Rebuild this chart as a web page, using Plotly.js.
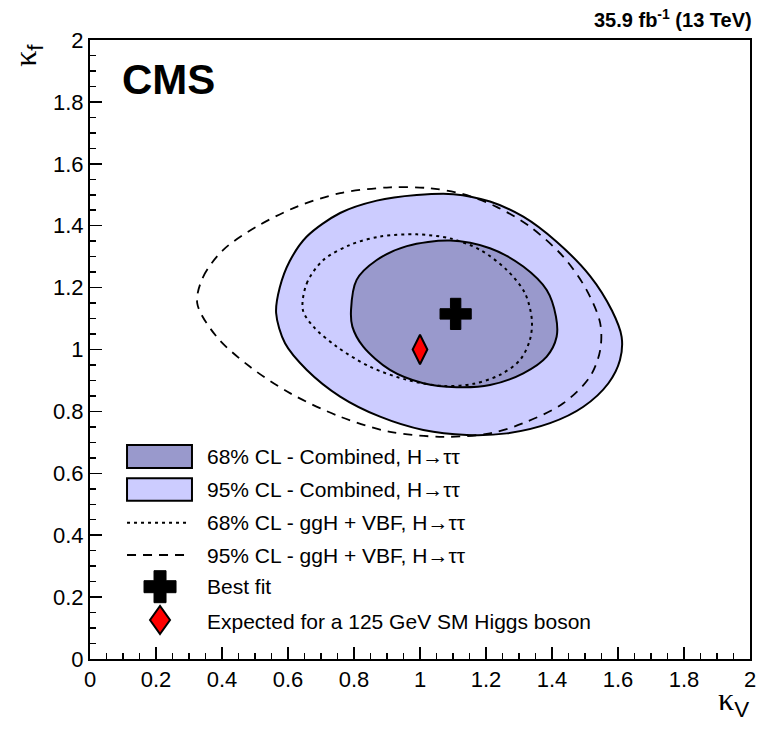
<!DOCTYPE html>
<html>
<head>
<meta charset="utf-8">
<script src="https://cdn.plot.ly/plotly-3.0.1.min.js"></script>
<style>html,body{margin:0;padding:0;background:#fff;}#plot{width:758px;height:733px;}</style>
</head>
<body>
<div id="plot"></div>
<script>
// 95% CL combined contour (kappa_V, kappa_f)
var kvComb95 = [0.564,0.575,0.605,0.657,0.758,0.869,0.990,1.101,1.212,1.313,1.414,1.515,1.582,1.611,1.606,1.571,1.495,1.394,1.263,1.142,1.010,0.879,0.758,0.657,0.591];
var kfComb95 = [1.118,1.200,1.285,1.365,1.441,1.481,1.499,1.502,1.478,1.429,1.348,1.238,1.125,1.041,0.966,0.891,0.815,0.762,0.729,0.724,0.740,0.783,0.848,0.934,1.020];
// 68% CL combined contour
var kvComb68 = [0.791,0.808,0.869,0.960,1.091,1.212,1.313,1.384,1.412,1.414,1.384,1.313,1.212,1.111,1.010,0.909,0.828,0.795];
var kfComb68 = [1.128,1.225,1.289,1.334,1.352,1.327,1.268,1.192,1.106,1.041,0.977,0.923,0.885,0.878,0.891,0.934,1.009,1.074];
// 68% CL ggH + VBF contour
var kvGgh68 = [0.645,0.657,0.707,0.788,0.879,0.990,1.091,1.182,1.263,1.318,1.339,1.333,1.303,1.242,1.162,1.071,0.960,0.849,0.748,0.677];
var kfGgh68 = [1.128,1.214,1.289,1.338,1.365,1.372,1.359,1.322,1.257,1.182,1.095,1.031,0.966,0.918,0.889,0.882,0.902,0.944,1.009,1.074];
// 95% CL ggH + VBF contour
var kvGgh95 = [0.325,0.343,0.404,0.505,0.626,0.758,0.909,1.030,1.131,1.232,1.333,1.434,1.505,1.546,1.546,1.515,1.434,1.313,1.212,1.071,0.909,0.758,0.606,0.485,0.384];
var kfGgh95 = [1.149,1.235,1.322,1.397,1.461,1.505,1.524,1.521,1.502,1.461,1.397,1.300,1.192,1.085,0.998,0.912,0.826,0.762,0.729,0.718,0.734,0.783,0.859,0.944,1.041];
// Best fit and SM expectation
var bestFitKv = [1.108], bestFitKf = [1.115];
var smKv = [1.0], smKf = [1.0];

var legendLabels = [
  "68% CL - Combined, H\u2192\u03c4\u03c4",
  "95% CL - Combined, H\u2192\u03c4\u03c4",
  "68% CL - ggH + VBF, H\u2192\u03c4\u03c4",
  "95% CL - ggH + VBF, H\u2192\u03c4\u03c4",
  "Best fit",
  "Expected for a 125 GeV SM Higgs boson"
];

function closed(a){ return a.concat([a[0]]); }

var traces = [
  {x: closed(kvComb95), y: closed(kfComb95), mode:'lines', fill:'toself', fillcolor:'rgb(204,204,255)',
   line:{color:'black', width:2, shape:'spline', smoothing:0.9}, hoverinfo:'skip'},
  {x: closed(kvComb68), y: closed(kfComb68), mode:'lines', fill:'toself', fillcolor:'rgb(153,153,204)',
   line:{color:'black', width:2, shape:'spline', smoothing:0.9}, hoverinfo:'skip'},
  {x: closed(kvGgh68), y: closed(kfGgh68), mode:'lines',
   line:{color:'black', width:2, dash:'3px,4px', shape:'spline', smoothing:0.9}, hoverinfo:'skip'},
  {x: closed(kvGgh95), y: closed(kfGgh95), mode:'lines',
   line:{color:'black', width:1.8, dash:'9px,7px', shape:'spline', smoothing:0.9}, hoverinfo:'skip'},
  {x: bestFitKv, y: bestFitKf, mode:'markers',
   marker:{symbol:'cross', size:26, color:'black', line:{color:'black', width:1}}},
  {x: smKv, y: smKf, mode:'markers',
   marker:{symbol:'diamond-tall', size:21, color:'red', line:{color:'black', width:2}}}
];

// legend layout (paper coordinates)
var legX0 = 0.0561, legX1 = 0.1545, legXc = 0.1061, legText = 0.1742;
var legRowY = [0.3268, 0.2742, 0.2202, 0.1680, 0.1168, 0.0603];

var shapes = [
  {type:'rect', xref:'paper', yref:'paper', x0:legX0, x1:legX1, y0:0.3086, y1:0.3457,
   fillcolor:'rgb(153,153,204)', line:{color:'black', width:2}},
  {type:'rect', xref:'paper', yref:'paper', x0:legX0, x1:legX1, y0:0.2557, y1:0.2919,
   fillcolor:'rgb(204,204,255)', line:{color:'black', width:2}},
  {type:'line', xref:'paper', yref:'paper', x0:legX0, x1:0.1515, y0:legRowY[2], y1:legRowY[2],
   line:{color:'black', width:2, dash:'3px,4px'}},
  {type:'line', xref:'paper', yref:'paper', x0:legX0, x1:0.1515, y0:legRowY[3], y1:legRowY[3],
   line:{color:'black', width:1.8, dash:'9px,7px'}},
  {type:'path', xref:'paper', yref:'paper', xsizemode:'pixel', ysizemode:'pixel',
   xanchor:legXc, yanchor:legRowY[4],
   path:'M-16,-6H-6V-16H6V-6H16V6H6V16H-6V6H-16Z', fillcolor:'black', line:{color:'black', width:1}},
  {type:'path', xref:'paper', yref:'paper', xsizemode:'pixel', ysizemode:'pixel',
   xanchor:legXc, yanchor:0.0630,
   path:'M0,-14L10,0L0,14L-10,0Z', fillcolor:'red', line:{color:'black', width:2}}
];

var annotations = legendLabels.map(function(t, i){
  return {text:t, xref:'paper', yref:'paper', x:legText, y:legRowY[i], xanchor:'left', yanchor:'middle',
          showarrow:false, font:{size:21, color:'black'}};
});
var sansSub = 'font-family:Liberation Sans, Arial, sans-serif';
annotations.push(
  {text:'<b>CMS</b>', xref:'paper', yref:'paper', x:0.0455, y:0.9354, xanchor:'left', yanchor:'middle',
   showarrow:false, font:{size:42, color:'black'}},
  {text:'<b>35.9 fb<sup>-1</sup> (13 TeV)</b>', xref:'paper', yref:'paper', x:1.006, y:1.034, xanchor:'right', yanchor:'middle',
   showarrow:false, font:{size:20, color:'black'}},
  {text:'\u03ba<sub><span style="' + sansSub + '">f</span></sub>', xref:'paper', yref:'paper', x:-0.095, y:0.975, xanchor:'center', yanchor:'middle',
   textangle:-90, showarrow:false, font:{size:32, color:'black', family:'Liberation Serif, Times New Roman, serif'}},
  {text:'\u03ba<sub><span style="' + sansSub + '">V</span></sub>', xref:'paper', yref:'paper', x:0.975, y:-0.068, xanchor:'center', yanchor:'middle',
   showarrow:false, font:{size:32, color:'black', family:'Liberation Serif, Times New Roman, serif'}}
);

var axisCommon = {
  range:[0,2], tick0:0, dtick:0.2, ticks:'inside', ticklen:12, tickwidth:1.5, tickcolor:'black',
  showline:true, linewidth:2, linecolor:'black', mirror:true, showgrid:false, zeroline:false,
  tickfont:{size:22, color:'black'}, fixedrange:true,
  minor:{ticks:'inside', ticklen:6, dtick:0.05, tickwidth:1.5, tickcolor:'black', showgrid:false}
};

var layout = {
  width:758, height:733,
  margin:{l:90, r:8, t:40, b:74},
  paper_bgcolor:'white', plot_bgcolor:'white',
  font:{family:'Liberation Sans, Arial, Helvetica, sans-serif', color:'black'},
  showlegend:false,
  xaxis:Object.assign({}, axisCommon, {ticklabelstandoff:0}),
  yaxis:Object.assign({}, axisCommon, {ticklabelstandoff:0}),
  shapes:shapes,
  annotations:annotations
};

Plotly.newPlot('plot', traces, layout, {displayModeBar:false, staticPlot:true});
</script>
</body>
</html>
